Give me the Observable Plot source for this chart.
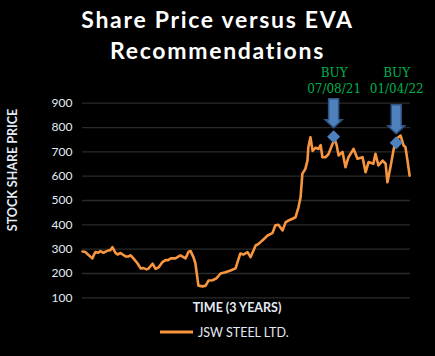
<!DOCTYPE html>
<html>
<head>
<meta charset="utf-8">
<script src="https://cdn.jsdelivr.net/npm/d3@7"></script>
<script src="https://cdn.jsdelivr.net/npm/@observablehq/plot@0.6"></script>
<style>
  html, body { margin: 0; padding: 0; background: #000; }
  body { width: 435px; height: 356px; position: relative; overflow: hidden; font-family: Lato, "Open Sans", sans-serif; }
  #title { position: absolute; left: 0; top: 0; width: 435px; text-align: center; color: #fff;
    font: bold 23px Lato, sans-serif; line-height: 31px; padding-top: 4px; letter-spacing: 1.7px; }
  #chart { position: absolute; left: 0; top: 62px; }
  #ytitle { position: absolute; left: 12px; top: 170px; transform: translate(-50%, -50%) rotate(-90deg);
    white-space: nowrap; color: #e3eaf4; font: bold 12.5px Lato, sans-serif; }
  #xtitle { position: absolute; left: 237px; top: 307px; transform: translate(-50%, -50%);
    white-space: nowrap; color: #e3eaf4; font: bold 12.5px Lato, sans-serif; }
  #legend { position: absolute; left: 160px; top: 332px; transform: translateY(-50%); display: flex; align-items: center;
    color: #e3eaf4; font: 12.5px Lato, sans-serif; white-space: nowrap; }
  #legend .sw { width: 33px; height: 3px; background: #f7963f; margin-right: 5px; }
</style>
</head>
<body>
<div id="title">Share Price versus EVA<br>Recommendations</div>
<div id="chart"></div>
<div id="ytitle">STOCK SHARE PRICE</div>
<div id="xtitle">TIME (3 YEARS)</div>
<div id="legend"><div class="sw"></div><span>JSW STEEL LTD.</span></div>
<script>
// Trading-day offsets over the 3-year window (0..1095) and closing prices
const days = [0,10,20,33,37,43,53,60,70,77,87,93,100,110,117,127,134,144,154,160,170,184,194,204,214,220,234,244,254,267,277,287,294,310,327,344,354,361,371,377,387,401,411,421,434,447,461,477,494,511,521,527,537,551,561,578,588,594,604,618,634,644,654,668,678,688,701,711,721,728,734,744,751,754,761,768,778,788,795,801,811,821,835,841,848,855,868,878,888,905,918,935,945,955,971,978,988,1002,1012,1018,1028,1038,1045,1055,1062,1072,1078,1085,1092];
const prices = [290,288,276,262,274,288,285,292,285,290,295,296,308,285,278,284,278,270,270,275,262,241,221,222,217,220,240,219,225,247,255,255,262,262,274,262,289,292,265,241,150,147,150,171,172,180,200,205,212,221,260,282,278,288,267,315,322,329,340,356,366,398,400,377,410,418,425,431,472,513,610,630,664,719,760,704,717,712,728,678,678,690,733,752,730,685,700,637,678,712,672,678,616,658,651,692,644,664,651,575,637,705,747,760,767,726,720,664,602];

// EVA "BUY" recommendations
const buyDays = [840, 1049];
const buyPrices = [760, 735];
const buyDates = ["07/08/21", "01/04/22"];
const buyLabel = "BUY";

const yTicks = [100, 200, 300, 400, 500, 600, 700, 800, 900];
const seriesName = "JSW STEEL LTD.";

const series = days.map((d, i) => ({day: d, price: prices[i]}));
const buys = buyDays.map((d, i) => ({day: d, price: buyPrices[i], date: buyDates[i]}));

const arrowsAndDiamonds = (index, scales) => {
  const g = d3.create("svg:g");
  buys.forEach(b => {
    const cx = scales.x(b.day), cy = scales.y(b.price);
    const tip = cy - 9, neck = tip - 8, top = tip - 29;
    g.append("path")
      .attr("d", `M${cx-5},${top}L${cx+5},${top}L${cx+5},${neck}L${cx+8.5},${neck}L${cx},${tip}L${cx-8.5},${neck}L${cx-5},${neck}Z`)
      .attr("fill", "#4f81bd").attr("stroke", "#2f5382").attr("stroke-width", 1.5);
    const r = 6.5;
    g.append("path")
      .attr("d", `M${cx},${cy-r}L${cx+r},${cy}L${cx},${cy+r}L${cx-r},${cy}Z`)
      .attr("fill", "#4f81bd");
  });
  return g.node();
};

const chart = Plot.plot({
  width: 435,
  height: 240,
  marginTop: 40.7,
  marginBottom: 4.7,
  marginLeft: 82,
  marginRight: 25,
  style: {background: "#000", color: "#e6ecf5", fontFamily: "Lato, sans-serif", fontSize: "12px", overflow: "visible"},
  x: {domain: [0, 1095], axis: null},
  y: {domain: [100, 900], ticks: yTicks, tickSize: 0, tickPadding: 10, label: null, tickFormat: d => d},
  marks: [
    Plot.ruleY(yTicks, {stroke: "#2a2a2a", strokeWidth: 1.3}),
    Plot.line(series, {x: "day", y: "price", stroke: "#f7963f", strokeWidth: 2.6, strokeLinejoin: "round"}),
    arrowsAndDiamonds,
    Plot.text(buys, {x: "day", frameAnchor: "top", text: () => buyLabel, dy: -26, fill: "#00b050",
      fontFamily: "DejaVu Serif, serif", fontSize: 12, lineAnchor: "bottom"}),
    Plot.text(buys, {x: "day", frameAnchor: "top", text: "date", dy: -10, fill: "#00b050",
      fontFamily: "DejaVu Serif, serif", fontSize: 12, lineAnchor: "bottom"})
  ]
});
document.getElementById("chart").appendChild(chart);
</script>
</body>
</html>
